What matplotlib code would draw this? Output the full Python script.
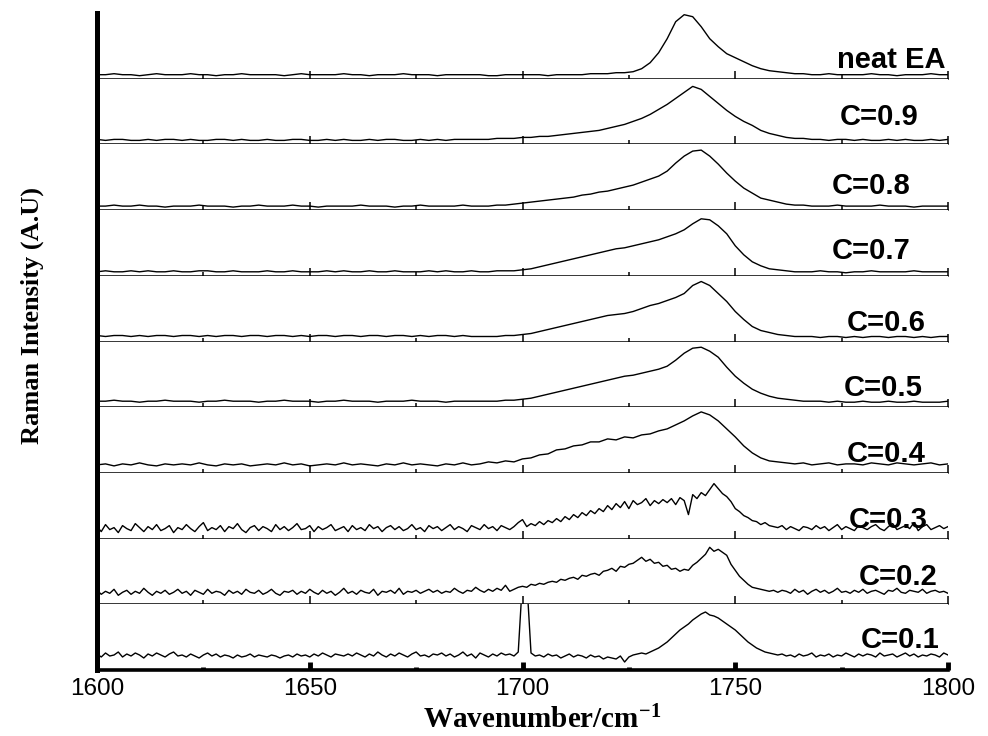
import numpy as np
import matplotlib
matplotlib.use("Agg")
import matplotlib.pyplot as plt
from matplotlib.ticker import MultipleLocator

plt.rcParams["mathtext.fontset"] = "custom"
plt.rcParams["mathtext.rm"] = "Liberation Serif:bold"
plt.rcParams["mathtext.bf"] = "Liberation Serif:bold"
plt.rcParams["mathtext.default"] = "rm"

# ---------------- data (intensity in arbitrary units) ----
wn_coarse = np.arange(1600, 1801, 2)   # 2 cm-1 sampling
wn_fine = np.arange(1600, 1801, 1)     # 1 cm-1 sampling (noisy traces)

labels = ["neat EA", "C=0.9", "C=0.8", "C=0.7", "C=0.6",
          "C=0.5", "C=0.4", "C=0.3", "C=0.2", "C=0.1"]

neat_ea = [4, 4, 5, 4, 4, 3, 4, 5, 4, 4,
           4, 5, 4, 4, 3, 4, 4, 5, 4, 4,
           4, 4, 3, 4, 5, 4, 4, 4, 4, 5,
           4, 4, 3, 4, 4, 4, 5, 4, 4, 4,
           3, 4, 4, 4, 4, 4, 3, 3, 4, 4,
           4, 4, 4, 3, 4, 4, 4, 4, 5, 5,
           5, 6, 6, 7, 10, 16, 26, 40, 57, 64,
           62, 52, 40, 32, 25, 21, 17, 13, 10, 8,
           7, 6, 5, 5, 4, 4, 5, 4, 4, 4,
           4, 5, 4, 4, 3, 4, 4, 4, 5, 4, 4]

c09 = [5, 4, 5, 5, 4, 4, 5, 4, 5, 5,
       4, 5, 4, 4, 5, 5, 4, 5, 4, 4,
       5, 4, 4, 5, 5, 4, 4, 5, 4, 5,
       4, 4, 5, 4, 5, 5, 4, 4, 5, 4,
       5, 4, 5, 5, 5, 5, 5, 6, 6, 6,
       7, 7, 8, 8, 9, 10, 11, 12, 13, 14,
       16, 18, 20, 23, 26, 30, 35, 40, 46, 52,
       58, 55, 48, 41, 34, 28, 23, 19, 14, 11,
       9, 7, 6, 6, 5, 5, 4, 5, 5, 4,
       5, 4, 4, 5, 4, 5, 4, 4, 5, 4, 5]

c08 = [4, 4, 5, 4, 4, 5, 4, 4, 3, 4,
       4, 4, 5, 4, 4, 4, 3, 4, 4, 5,
       4, 4, 4, 5, 4, 4, 3, 4, 4, 4,
       4, 5, 4, 4, 4, 3, 4, 4, 5, 4,
       4, 4, 4, 5, 4, 4, 4, 5, 5, 6,
       7, 8, 9, 10, 11, 12, 13, 15, 16, 18,
       19, 21, 23, 25, 28, 31, 34, 39, 47, 54,
       59, 60, 54, 46, 37, 29, 22, 17, 12, 10,
       8, 6, 5, 5, 4, 4, 4, 5, 4, 4,
       4, 4, 5, 4, 4, 4, 3, 4, 4, 4, 4]

c07 = [4, 5, 4, 4, 5, 4, 5, 4, 4, 5,
       4, 4, 5, 5, 4, 4, 5, 4, 4, 4,
       5, 4, 4, 5, 4, 4, 4, 5, 4, 5,
       4, 4, 5, 4, 4, 5, 4, 4, 4, 5,
       4, 5, 4, 4, 5, 4, 4, 5, 5, 5,
       6, 7, 9, 11, 13, 15, 17, 19, 21, 23,
       25, 27, 28, 30, 32, 34, 36, 39, 42, 46,
       52, 57, 56, 50, 42, 30, 21, 14, 10, 7,
       6, 5, 4, 4, 4, 5, 4, 4, 3, 4,
       4, 5, 4, 4, 4, 4, 5, 4, 4, 4, 4]

c06 = [6, 5, 6, 6, 5, 6, 5, 6, 6, 5,
       6, 6, 5, 6, 5, 6, 6, 5, 6, 6,
       5, 6, 6, 5, 6, 5, 6, 6, 5, 6,
       6, 5, 6, 6, 5, 6, 6, 5, 6, 5,
       6, 6, 5, 6, 5, 5, 5, 5, 6, 6,
       7, 8, 10, 12, 14, 16, 18, 20, 22, 24,
       26, 27, 28, 30, 33, 36, 38, 41, 44, 48,
       56, 60, 56, 48, 40, 30, 22, 15, 11, 9,
       7, 6, 5, 5, 5, 4, 5, 5, 4, 5,
       4, 5, 5, 4, 5, 5, 4, 5, 4, 5, 5]

c05 = [6, 6, 7, 6, 6, 5, 6, 6, 7, 6,
       6, 6, 5, 6, 6, 7, 6, 6, 6, 5,
       6, 6, 7, 6, 6, 6, 5, 6, 6, 7,
       6, 6, 6, 5, 6, 6, 6, 7, 6, 6,
       6, 5, 6, 6, 6, 6, 6, 6, 7, 7,
       8, 9, 11, 13, 15, 17, 19, 21, 23, 25,
       27, 29, 31, 32, 34, 36, 38, 41, 47, 54,
       59, 60, 56, 50, 40, 31, 24, 18, 14, 11,
       9, 8, 7, 6, 6, 6, 5, 6, 5, 5,
       6, 5, 5, 6, 5, 5, 6, 5, 5, 5, 6]

c04 = [8, 9, 7, 9, 8, 10, 8, 7, 9, 8,
       9, 8, 10, 8, 7, 9, 8, 9, 7, 8,
       9, 8, 10, 8, 9, 7, 8, 9, 8, 10,
       8, 9, 8, 7, 9, 8, 10, 8, 9, 8,
       7, 9, 8, 10, 8, 9, 11, 10, 12, 11,
       14, 15, 18, 19, 23, 24, 27, 28, 31, 31,
       34, 33, 36, 35, 38, 39, 42, 44, 48, 52,
       57, 61, 58, 52, 44, 36, 27, 20, 15, 12,
       11, 10, 9, 10, 8, 9, 10, 8, 9, 9,
       8, 10, 9, 8, 10, 9, 8, 9, 10, 8, 9]

c03 = [12, 7, 14, 9, 11, 6, 13, 10, 8, 15, 11, 7, 12, 9, 14, 8, 10, 13, 6, 11,
       9, 14, 10, 7, 12, 16, 8, 11, 9, 13, 7, 12, 10, 15, 9, 6, 11, 13, 8, 12,
       10, 7, 14, 9, 12, 8, 11, 15, 9, 10, 13, 7, 12, 9, 11, 14, 8, 10, 12, 7,
       13, 9, 11, 8, 14, 10, 12, 7, 11, 13, 9, 12, 8, 10, 14, 9, 11, 7, 13, 10,
       12, 8, 11, 14, 9, 12, 10, 7, 13, 11, 9, 14, 10, 12, 8, 13, 11, 9, 12, 16,
       19, 12, 15, 13, 17, 14, 18, 16, 20, 17, 22, 19, 24, 21, 26, 23, 28, 25, 30, 27,
       33, 29, 35, 31, 37, 30, 38, 34, 36, 40, 33, 38, 35, 39, 36, 40, 34, 41, 38, 24,
       44, 40, 46, 43, 49, 55, 50, 45, 42, 37, 30, 27, 23, 21, 18, 17, 14, 16, 13, 12,
       11, 13, 9, 12, 10, 8, 12, 11, 9, 13, 10, 12, 8, 11, 14, 9, 12, 10, 8, 13,
       11, 9, 12, 14, 10, 8, 12, 15, 9, 11, 13, 10, 16, 8, 12, 14, 9, 11, 13, 10, 12]

c02 = [14, 10, 13, 11, 15, 9, 12, 14, 10, 13, 11, 16, 12, 9, 13, 11, 14, 10, 12, 15,
       11, 13, 9, 14, 12, 10, 15, 11, 13, 12, 9, 14, 11, 13, 10, 15, 12, 11, 14, 10,
       12, 15, 11, 9, 13, 12, 14, 10, 13, 11, 15, 12, 10, 14, 11, 13, 9, 12, 16, 11,
       13, 10, 14, 12, 11, 15, 9, 13, 12, 14, 11, 16, 10, 13, 12, 14, 11, 13, 15, 12,
       14, 11, 13, 12, 16, 13, 11, 14, 13, 17, 14, 12, 15, 13, 16, 14, 19, 13, 15, 17,
       18, 17, 20, 19, 21, 20, 22, 23, 22, 25, 24, 26, 27, 25, 29, 28, 30, 31, 29, 33,
       34, 36, 33, 38, 37, 40, 41, 44, 47, 43, 45, 41, 42, 38, 39, 35, 36, 33, 35, 34,
       39, 42, 46, 50, 57, 53, 55, 52, 49, 40, 34, 28, 24, 20, 17, 16, 15, 14, 13, 14,
       12, 14, 13, 11, 15, 12, 14, 10, 13, 15, 12, 14, 11, 13, 16, 12, 13, 11, 14, 12,
       15, 11, 13, 14, 12, 10, 14, 13, 16, 12, 11, 14, 13, 12, 15, 11, 13, 14, 12, 13, 11]

c01 = [16, 13, 17, 14, 15, 18, 13, 16, 14, 17, 15, 12, 16, 14, 17, 15, 13, 16, 18, 14,
       15, 13, 16, 14, 12, 15, 17, 14, 16, 13, 15, 14, 12, 15, 13, 14, 16, 13, 15, 14,
       13, 15, 14, 12, 14, 15, 13, 16, 14, 15, 13, 16, 14, 17, 15, 13, 16, 15, 14, 16,
       14, 17, 15, 13, 16, 14, 18, 15, 13, 16, 14, 17, 15, 13, 16, 18, 14, 15, 13, 16,
       15, 17, 14, 16, 13, 15, 18, 14, 16, 12, 17, 15, 13, 16, 14, 17, 15, 16, 14, 18,
       90, 90, 17, 14, 15, 13, 16, 14, 15, 12, 14, 16, 13, 15, 14, 12, 15, 13, 14, 11,
       13, 12, 11, 14, 8, 13, 15, 16, 17, 16, 18, 20, 22, 25, 28, 32, 36, 40, 43, 46,
       50, 53, 56, 58, 55, 54, 52, 49, 46, 43, 40, 36, 32, 28, 25, 22, 20, 18, 17, 16,
       15, 16, 14, 15, 13, 16, 14, 15, 17, 13, 15, 14, 16, 13, 15, 14, 17, 15, 13, 16,
       14, 16, 15, 13, 17, 14, 15, 16, 13, 15, 17, 14, 16, 13, 15, 14, 16, 15, 13, 17, 15]

series = [neat_ea, c09, c08, c07, c06, c05, c04, c03, c02, c01]
x_axes = [wn_coarse] * 7 + [wn_fine] * 3

# label anchor (right edge x in cm-1, height in panel units)
label_x = [1799.3, 1793.0, 1791.1, 1791.1, 1794.8, 1794.1, 1794.8, 1795.3, 1797.6, 1798.1]
label_y = [19, 27, 24, 25, 19, 19, 19, 19, 27, 30]

# ---------------- figure ---------------------------------------------------
fig = plt.figure(figsize=(9.88, 7.36), dpi=100)
gs = fig.add_gridspec(len(series), 1, left=97 / 988, right=948 / 988,
                      top=1 - 13 / 736, bottom=1 - 670 / 736, hspace=0)

n = len(series)
for k, (xs, ys, lab) in enumerate(zip(x_axes, series, labels)):
    ax = fig.add_subplot(gs[k])
    ax.plot(xs, ys, color="black", lw=1.0)
    ax.set_xlim(1600, 1800)
    ax.set_ylim(0, 65.7)
    ax.set_yticks([])
    ax.spines["top"].set_visible(False)
    ax.spines["right"].set_visible(False)
    ax.spines["left"].set_linewidth(3.6)
    last = (k == n - 1)
    ax.spines["bottom"].set_linewidth(2.6 if last else 1.1)
    ax.xaxis.set_major_locator(MultipleLocator(50))
    ax.xaxis.set_minor_locator(MultipleLocator(25))
    if last:
        ax.tick_params(axis="x", which="major", direction="in", length=6,
                       width=3.5, labelsize=17.5, pad=6)
        ax.tick_params(axis="x", which="minor", direction="in", length=2.5,
                       width=3.5)
        for t in ax.get_xticklabels():
            t.set_fontfamily("Liberation Sans")
    else:
        ax.tick_params(axis="x", which="major", direction="in", length=5.8,
                       width=1.1, labelbottom=False)
        ax.tick_params(axis="x", which="minor", direction="in", length=3.2,
                       width=1.1)
    ax.text(label_x[k], label_y[k], lab, ha="right", va="center",
            fontsize=21, fontweight="bold", family="Liberation Sans")

fig.text(0.549, 0.022, r"Wavenumber/cm$^{-1}$", ha="center", va="center",
         fontsize=21, fontweight="bold", family="Liberation Serif")
fig.text(0.033, 0.572, "Raman Intensity (A.U)", ha="center", va="center",
         rotation=90, fontsize=19, fontweight="bold", family="Liberation Serif")

fig.savefig("out.png", dpi=100)
